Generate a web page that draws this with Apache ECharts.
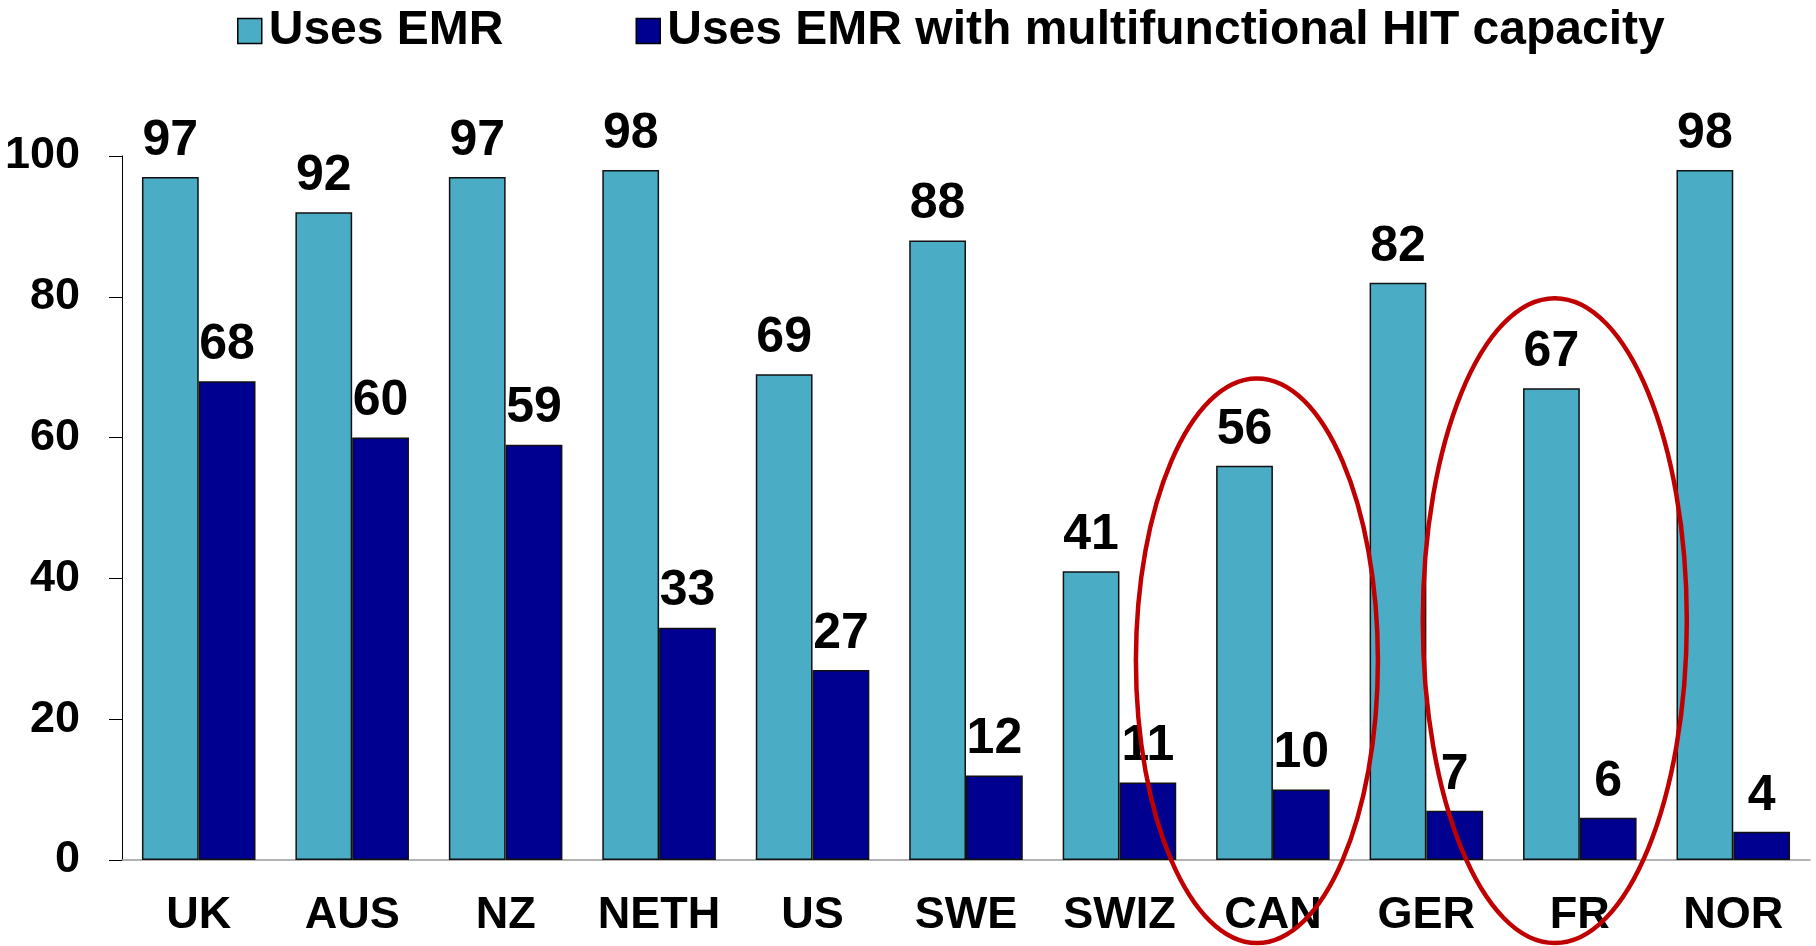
<!DOCTYPE html>
<html>
<head>
<meta charset="utf-8">
<script src="https://cdn.jsdelivr.net/npm/echarts@6/dist/echarts.min.js"></script>
<style>
  html, body { margin: 0; padding: 0; background: #fff; }
  #chart { width: 1816px; height: 946px; }
</style>
</head>
<body>
<div id="chart"></div>
<script>
const countries = ['UK', 'AUS', 'NZ', 'NETH', 'US', 'SWE', 'SWIZ', 'CAN', 'GER', 'FR', 'NOR'];
const usesEmr = [97, 92, 97, 98, 69, 88, 41, 56, 82, 67, 98];
const usesEmrHit = [68, 60, 59, 33, 27, 12, 11, 10, 7, 6, 4];
const seriesNames = ['Uses EMR', 'Uses EMR with multifunctional HIT capacity'];
// countries circled in red
const circled = ['CAN', 'FR'];

const font = '"Liberation Sans", Arial, sans-serif';
const chart = echarts.init(document.getElementById('chart'));

const labelStyle = {
  show: true,
  position: 'top',
  distance: 11,
  color: '#000',
  fontFamily: font,
  fontWeight: 'bold',
  fontSize: 50
};

chart.setOption({
  animation: false,
  color: ['#4BACC6', '#000090'],
  legend: {
    left: 232,
    top: 2,
    itemWidth: 24,
    itemHeight: 25,
    itemGap: 132,
    icon: 'rect',
    textStyle: { fontFamily: font, fontWeight: 'bold', fontSize: 48, color: '#000', padding: [0, 0, 0, 2] },
    itemStyle: { borderColor: '#000', borderWidth: 1.5 },
    data: seriesNames
  },
  grid: { left: 122, right: 6, top: 156, bottom: 86 },
  xAxis: {
    type: 'category',
    data: countries,
    axisLine: { lineStyle: { color: '#999', width: 1.5 } },
    axisTick: { length: 13, lineStyle: { color: '#888' } },
    axisLabel: { interval: 0, margin: 33, color: '#000', fontFamily: font, fontWeight: 'bold', fontSize: 45 }
  },
  yAxis: {
    type: 'value',
    min: 0,
    max: 100,
    interval: 20,
    splitLine: { show: false },
    axisLine: { show: true, lineStyle: { color: '#000' } },
    axisTick: { show: true, length: 13, lineStyle: { color: '#000' } },
    axisLabel: { margin: 42, color: '#000', fontFamily: font, fontWeight: 'bold', fontSize: 45 }
  },
  series: [
    {
      name: seriesNames[0],
      type: 'bar',
      data: usesEmr,
      barGap: '0%',
      barCategoryGap: '26%',
      itemStyle: { borderColor: '#111', borderWidth: 1.5 },
      label: labelStyle
    },
    {
      name: seriesNames[1],
      type: 'bar',
      data: usesEmrHit,
      itemStyle: { borderColor: '#111', borderWidth: 1.5 },
      label: labelStyle
    }
  ]
});

// red ellipses around CAN and FR, placed from the axis scales
const ellipseSpec = [
  { cat: 'CAN', top: 68.4, bottom: -11.8, dx: -16, rx: 121 },
  { cat: 'FR', top: 79.8, bottom: -11.8, dx: -25, rx: 132 }
];
const graphics = ellipseSpec.filter(e => circled.includes(e.cat)).map(e => {
  const t = chart.convertToPixel({ xAxisIndex: 0, yAxisIndex: 0 }, [e.cat, e.top]);
  const b = chart.convertToPixel({ xAxisIndex: 0, yAxisIndex: 0 }, [e.cat, e.bottom]);
  return {
    type: 'ellipse',
    shape: { cx: t[0] + e.dx, cy: (t[1] + b[1]) / 2, rx: e.rx, ry: (b[1] - t[1]) / 2 },
    style: { fill: null, stroke: '#C00000', lineWidth: 4.5 },
    z: 100
  };
});
chart.setOption({ graphic: graphics });
</script>
</body>
</html>
